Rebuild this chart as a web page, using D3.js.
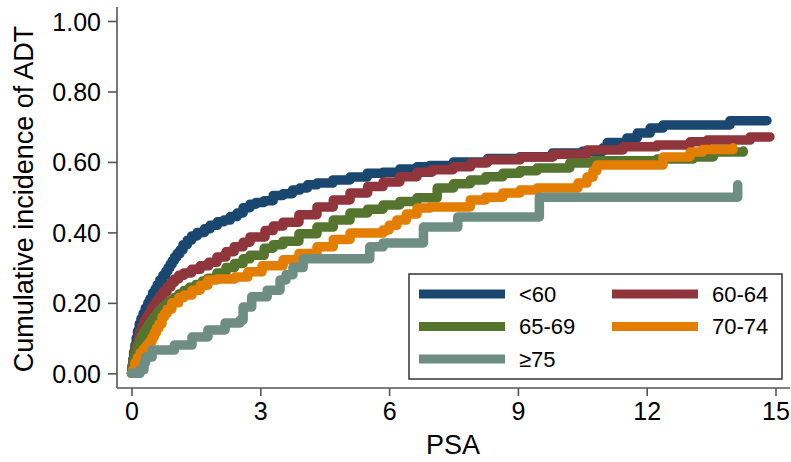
<!DOCTYPE html>
<html>
<head>
<meta charset="utf-8">
<script src="https://cdn.jsdelivr.net/npm/d3@7"></script>
<style>
    body { margin: 0; background: #fff; }
    svg { display: block; font-family: "Liberation Sans", Arial, sans-serif; }
</style>
</head>
<body>
<div id="chart"></div>
<script>
// Age groups and their cumulative incidence step curves [PSA, incidence]
const groups = ['<60', '60-64', '65-69', '70-74', '≥75'];
const colors = ['#1a476f', '#90353b', '#55752f', '#e37e00', '#6e8e84'];

const under60 = [
    [0, 0], [0.01, 0.02], [0.03, 0.04], [0.05, 0.06], [0.08, 0.08], [0.11, 0.1],
    [0.14, 0.12], [0.18, 0.14], [0.22, 0.155], [0.27, 0.17], [0.32, 0.185], [0.38, 0.2],
    [0.43, 0.212], [0.49, 0.228], [0.55, 0.24], [0.6, 0.252], [0.66, 0.265], [0.73, 0.278],
    [0.8, 0.29], [0.85, 0.3], [0.9, 0.31], [0.95, 0.32], [1.0, 0.33], [1.06, 0.34],
    [1.13, 0.35], [1.2, 0.365], [1.3, 0.378], [1.4, 0.39], [1.53, 0.4], [1.7, 0.41],
    [1.83, 0.42], [2.0, 0.43], [2.15, 0.435], [2.3, 0.445], [2.46, 0.455], [2.6, 0.47],
    [2.76, 0.48], [2.9, 0.485], [3.09, 0.49], [3.3, 0.505], [3.53, 0.51], [3.75, 0.52],
    [3.92, 0.526], [4.1, 0.535], [4.32, 0.54], [4.69, 0.549], [5.09, 0.557], [5.49, 0.568],
    [5.86, 0.571], [6.25, 0.58], [6.65, 0.586], [6.95, 0.59], [7.5, 0.6], [8.3, 0.61],
    [9.05, 0.615], [9.8, 0.625], [10.5, 0.63], [10.98, 0.64], [11.08, 0.655],
    [11.54, 0.668], [11.78, 0.682], [12.08, 0.696], [12.38, 0.705], [13.94, 0.717],
    [14.8, 0.717]
];
const age60to64 = [
    [0, 0], [0.02, 0.02], [0.04, 0.04], [0.06, 0.06], [0.1, 0.08], [0.15, 0.1],
    [0.19, 0.117], [0.24, 0.133], [0.29, 0.148], [0.35, 0.16], [0.4, 0.17], [0.46, 0.185],
    [0.52, 0.195], [0.59, 0.207], [0.66, 0.22], [0.74, 0.232], [0.83, 0.245], [0.92, 0.258],
    [1.0, 0.268], [1.1, 0.278], [1.22, 0.285], [1.4, 0.295], [1.6, 0.305], [1.8, 0.315],
    [1.99, 0.33], [2.2, 0.345], [2.39, 0.359], [2.6, 0.372], [2.76, 0.387], [3.11, 0.405],
    [3.3, 0.418], [3.53, 0.429], [3.9, 0.45], [4.32, 0.472], [4.7, 0.492], [5.09, 0.512],
    [5.5, 0.53], [5.86, 0.543], [6.25, 0.558], [6.65, 0.571], [7.0, 0.578], [7.49, 0.586],
    [7.9, 0.597], [8.28, 0.606], [9.05, 0.614], [9.82, 0.622], [10.61, 0.634],
    [11.45, 0.643], [12.24, 0.648], [13.01, 0.657], [13.41, 0.662], [14.41, 0.671],
    [14.87, 0.671]
];
const age65to69 = [
    [0, 0], [0.01, 0.02], [0.04, 0.04], [0.08, 0.06], [0.13, 0.078], [0.18, 0.092],
    [0.23, 0.106], [0.29, 0.12], [0.35, 0.13], [0.4, 0.14], [0.46, 0.15], [0.52, 0.16],
    [0.59, 0.17], [0.66, 0.18], [0.74, 0.19], [0.83, 0.2], [0.92, 0.208], [1.0, 0.215],
    [1.1, 0.225], [1.22, 0.235], [1.35, 0.244], [1.5, 0.252], [1.65, 0.262], [1.78, 0.27],
    [1.99, 0.285], [2.2, 0.3], [2.4, 0.312], [2.6, 0.325], [2.76, 0.335], [3.09, 0.355],
    [3.3, 0.365], [3.53, 0.375], [3.9, 0.396], [4.32, 0.415], [4.7, 0.435], [5.09, 0.455],
    [5.5, 0.466], [5.86, 0.478], [6.25, 0.488], [6.65, 0.498], [7.12, 0.526], [7.5, 0.538],
    [7.89, 0.549], [8.25, 0.558], [8.65, 0.568], [9.05, 0.575], [9.45, 0.583],
    [10.21, 0.597], [10.75, 0.603], [12.24, 0.608], [13.08, 0.614], [13.55, 0.628],
    [14.25, 0.631]
];
const age70to74 = [
    [0, 0], [0.03, 0.01], [0.08, 0.03], [0.14, 0.045], [0.2, 0.058], [0.28, 0.07],
    [0.35, 0.08], [0.42, 0.09], [0.48, 0.103], [0.53, 0.115], [0.58, 0.128], [0.64, 0.14],
    [0.71, 0.16], [0.77, 0.17], [0.83, 0.182], [0.94, 0.2], [1.1, 0.215], [1.22, 0.222],
    [1.41, 0.236], [1.6, 0.25], [1.78, 0.265], [1.99, 0.268], [2.41, 0.273], [2.71, 0.288],
    [3.04, 0.305], [3.53, 0.322], [3.9, 0.34], [4.32, 0.359], [4.7, 0.38], [5.09, 0.398],
    [5.86, 0.407], [6.0, 0.42], [6.18, 0.435], [6.4, 0.452], [6.65, 0.469], [6.95, 0.472],
    [7.89, 0.492], [8.25, 0.5], [8.65, 0.512], [9.05, 0.52], [9.45, 0.526], [10.4, 0.54],
    [10.61, 0.557], [10.75, 0.575], [10.84, 0.591], [12.38, 0.614], [13.01, 0.628],
    [13.3, 0.635], [14.01, 0.64]
];
const over75 = [
    [0, 0], [0.2, 0.01], [0.29, 0.03], [0.33, 0.046], [0.48, 0.066], [1.0, 0.08],
    [1.41, 0.103], [1.78, 0.123], [2.18, 0.143], [2.53, 0.151], [2.6, 0.188], [2.8, 0.217],
    [3.16, 0.236], [3.46, 0.265], [3.6, 0.28], [3.76, 0.3], [4.0, 0.325], [5.55, 0.359],
    [5.86, 0.37], [6.8, 0.415], [7.6, 0.444], [9.5, 0.5], [14.12, 0.535]
];
const seriesData = [under60, age60to64, age65to69, age70to74, over75];

const xTicks = [0, 3, 6, 9, 12, 15];
const yTicks = [0, 0.2, 0.4, 0.6, 0.8, 1.0];

function drawChart() {
    const width = 791;
    const height = 462;
    const axisX = 117;   // y axis spine position
    const axisY = 388;   // x axis spine position

    const svg = d3.select('#chart')
        .append('svg')
        .attr('width', width)
        .attr('height', height);

    const x = d3.scaleLinear().domain([0, 15]).range([131.5, 775.5]);
    const y = d3.scaleLinear().domain([0, 1]).range([373.3, 21]);

    // Axis spines
    svg.append('line')
        .attr('x1', axisX).attr('x2', axisX)
        .attr('y1', 7).attr('y2', axisY)
        .attr('stroke', '#555').attr('stroke-width', 1.6);
    svg.append('line')
        .attr('x1', axisX).attr('x2', 790)
        .attr('y1', axisY).attr('y2', axisY)
        .attr('stroke', '#555').attr('stroke-width', 1.6);

    // Y axis
    const yAxis = svg.append('g')
        .attr('transform', `translate(${axisX},0)`)
        .call(d3.axisLeft(y).tickValues(yTicks).tickFormat(d3.format('.2f'))
            .tickSize(9).tickSizeOuter(0).tickPadding(7));
    yAxis.select('.domain').remove();
    yAxis.selectAll('.tick line').attr('stroke', '#555').attr('stroke-width', 1.6);
    yAxis.selectAll('.tick text')
        .attr('fill', '#000')
        .style('font-size', '25px')
        .attr('dy', '0.36em');

    // X axis
    const xAxis = svg.append('g')
        .attr('transform', `translate(0,${axisY})`)
        .call(d3.axisBottom(x).tickValues(xTicks)
            .tickSize(8).tickSizeOuter(0).tickPadding(6));
    xAxis.select('.domain').remove();
    xAxis.selectAll('.tick line').attr('stroke', '#555').attr('stroke-width', 1.6);
    xAxis.selectAll('.tick text')
        .attr('fill', '#000')
        .style('font-size', '25px');

    // Axis titles
    svg.append('text')
        .attr('x', 453)
        .attr('y', 454)
        .attr('text-anchor', 'middle')
        .style('font-size', '27px')
        .text('PSA');

    svg.append('text')
        .attr('transform', 'translate(33,199) rotate(-90)')
        .attr('text-anchor', 'middle')
        .style('font-size', '27px')
        .text('Cumulative incidence of ADT');

    // Curves
    const line = d3.line()
        .x(d => x(d[0]))
        .y(d => y(d[1]))
        .curve(d3.curveStepAfter);

    svg.append('g')
        .selectAll('path')
        .data(seriesData)
        .enter()
        .append('path')
        .attr('d', line)
        .attr('fill', 'none')
        .attr('stroke', (d, i) => colors[i])
        .attr('stroke-width', 9.5)
        .attr('stroke-linecap', 'round')
        .attr('stroke-linejoin', 'round');

    // Legend
    const legend = svg.append('g').attr('class', 'legend');
    legend.append('rect')
        .attr('x', 409).attr('y', 274)
        .attr('width', 373).attr('height', 105)
        .attr('fill', '#fff')
        .attr('stroke', '#333')
        .attr('stroke-width', 1.5);

    const items = legend.selectAll('g.item')
        .data(groups)
        .enter()
        .append('g')
        .attr('class', 'item')
        .attr('transform', (d, i) => `translate(${i % 2 === 0 ? 419 : 612},${294 + Math.floor(i / 2) * 32.5})`);

    items.append('rect')
        .attr('x', 0).attr('y', -4.5)
        .attr('width', 86).attr('height', 9)
        .attr('fill', (d, i) => colors[i]);

    items.append('text')
        .attr('x', 100)
        .attr('y', 0)
        .attr('dy', '0.36em')
        .style('font-size', '22px')
        .text(d => d);
}

document.addEventListener('DOMContentLoaded', drawChart);
</script>
</body>
</html>
